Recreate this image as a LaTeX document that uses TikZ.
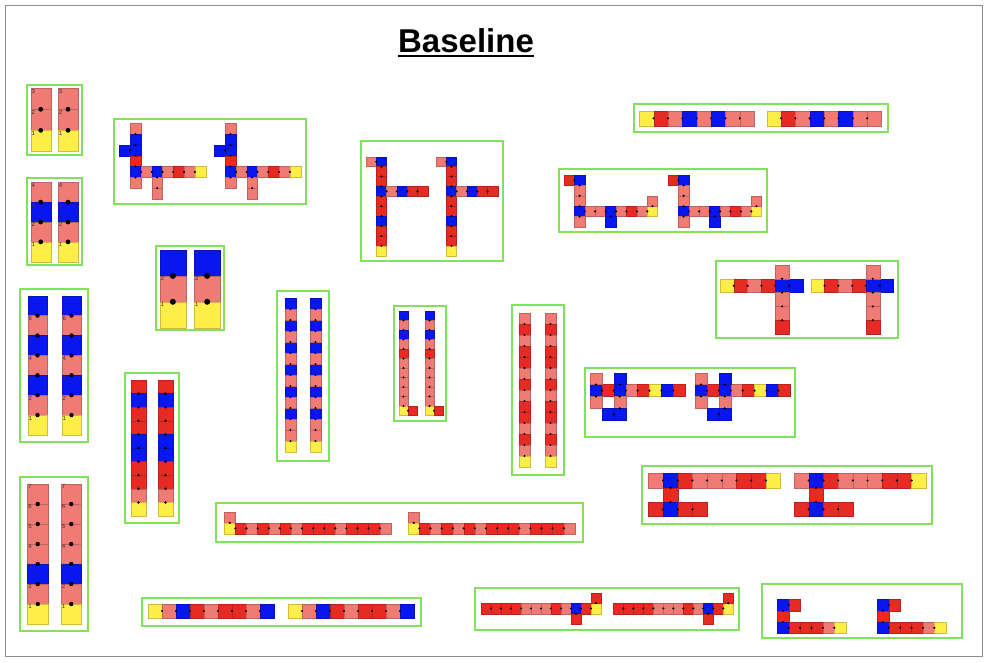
\documentclass[tikz,border=0pt]{standalone}
\usepackage{fontspec}
\setmainfont{Liberation Sans}
\definecolor{cy}{RGB}{255,238,72}
\definecolor{cs}{RGB}{240,122,116}
\definecolor{cr}{RGB}{232,42,36}
\definecolor{cb}{RGB}{8,22,240}
\definecolor{gbox}{RGB}{130,226,92}
\tikzset{
  grpbox/.style={draw=gbox,line width=2pt},
  lbl/.style={anchor=north west,inner sep=0.6pt,font=\fontsize{6}{6}\selectfont,text=black!80},
}
\newcommand\cc[3]{\fill[#3] (#1,#2) rectangle ++(1,1); \draw[draw=#3!80!black,line width=0.25pt] (#1,#2) rectangle ++(1,1);}
\newcommand\jd[2]{\fill[black] (#1,#2) circle[radius=\jr];}
\def\jr{1.2pt}
\begin{document}
\begin{tikzpicture}[x=1pt,y=-1pt]
\useasboundingbox (0,0) rectangle (988,662);
\draw[black!45,line width=0.8pt] (5,5) rectangle (982,656);
\node[font=\bfseries\fontsize{33}{33}\selectfont,inner sep=0pt,anchor=base] (title) at (466,52) {Baseline};
\draw[line width=2.2pt] ([yshift=-4pt]title.base west) -- ([yshift=-4pt]title.base east);

% group boxes
\draw[grpbox] (27,84.5) rectangle (82,155);
\draw[grpbox] (27,177.5) rectangle (82,265);
\draw[grpbox] (155.5,246) rectangle (223.5,329.5);
\draw[grpbox] (20,289) rectangle (88,441.5);
\draw[grpbox] (20,477) rectangle (88,631);
\draw[grpbox] (124.5,373) rectangle (179,523);
\draw[grpbox] (276.5,291) rectangle (329,461);
\draw[grpbox] (394,305.5) rectangle (446,421);
\draw[grpbox] (512,305) rectangle (564,475);
\draw[grpbox] (114,118.5) rectangle (305.5,203.5);
\draw[grpbox] (361,140.5) rectangle (503,260.5);
\draw[grpbox] (633.5,104) rectangle (887.5,132);
\draw[grpbox] (559,169) rectangle (767,231.5);
\draw[grpbox] (715.5,261) rectangle (897.5,337.5);
\draw[grpbox] (584.5,367.5) rectangle (795,437);
\draw[grpbox] (642,466) rectangle (932,523.5);
\draw[grpbox] (215.5,502.5) rectangle (582.5,541.5);
\draw[grpbox] (142,597.5) rectangle (421,625.5);
\draw[grpbox] (474.5,587.5) rectangle (739,629.5);
\draw[grpbox] (762,584) rectangle (962,638);

% A
\def\jr{2.4pt}
\foreach \ox in {30.7,58}{
\begin{scope}[shift={(\ox,88.3)},x=20pt,y=-21pt]
\cc{0}{0}{cs}\cc{0}{1}{cs}\cc{0}{2}{cy}
\node[lbl] at (0,0) {3};\node[lbl] at (0,1) {2};\node[lbl] at (0,2) {1};
\jd{0.5}{1}\jd{0.5}{2}
\end{scope}}
% B
\foreach \ox in {30.7,58}{
\begin{scope}[shift={(\ox,182.3)},x=20pt,y=-19.85pt]
\cc{0}{0}{cs}\cc{0}{1}{cb}\cc{0}{2}{cs}\cc{0}{3}{cy}
\node[lbl] at (0,0) {4};\node[lbl] at (0,1) {3};\node[lbl] at (0,2) {2};\node[lbl] at (0,3) {1};
\jd{0.5}{1}\jd{0.5}{2}\jd{0.5}{3}
\end{scope}}
% C
\def\jr{3pt}
\foreach \ox in {160,194.3}{
\begin{scope}[shift={(\ox,250)},x=25.7pt,y=-25.9pt]
\cc{0}{0}{cb}\cc{0}{1}{cs}\cc{0}{2}{cy}
\node[lbl] at (0,0) {3};\node[lbl] at (0,1) {2};\node[lbl] at (0,2) {1};
\jd{0.5}{1}\jd{0.5}{2}
\end{scope}}
% D
\def\jr{2.2pt}
\foreach \ox in {27.7,61.7}{
\begin{scope}[shift={(\ox,295.7)},x=19.6pt,y=-19.9pt]
\cc{0}{0}{cb}\cc{0}{1}{cs}\cc{0}{2}{cb}\cc{0}{3}{cs}\cc{0}{4}{cb}\cc{0}{5}{cs}\cc{0}{6}{cy}
\foreach \k/\t in {0/7,1/6,2/5,3/4,4/3,5/2,6/1}{\node[lbl] at (0,\k) {\t};}
\foreach \k in {1,...,6}{\jd{0.5}{\k}}
\end{scope}}
% E
\foreach \ox in {27.5,61}{
\begin{scope}[shift={(\ox,484)},x=20.5pt,y=-20pt]
\cc{0}{0}{cs}\cc{0}{1}{cs}\cc{0}{2}{cs}\cc{0}{3}{cs}\cc{0}{4}{cb}\cc{0}{5}{cs}\cc{0}{6}{cy}
\foreach \k/\t in {0/7,1/6,2/5,3/4,4/3,5/2,6/1}{\node[lbl] at (0,\k) {\t};}
\foreach \k in {1,...,6}{\jd{0.5}{\k}}
\end{scope}}
% F
\def\jr{1.4pt}
\foreach \ox in {131,158}{
\begin{scope}[shift={(\ox,380)},x=15pt,y=-13.6pt]
\cc{0}{0}{cr}\cc{0}{1}{cb}\cc{0}{2}{cr}\cc{0}{3}{cr}\cc{0}{4}{cb}\cc{0}{5}{cb}\cc{0}{6}{cr}\cc{0}{7}{cr}\cc{0}{8}{cs}\cc{0}{9}{cy}
\foreach \k in {1,...,9}{\jd{0.5}{\k}}
\end{scope}}
% G
\def\jr{1.1pt}
\foreach \ox in {285,310}{
\begin{scope}[shift={(\ox,298)},x=11pt,y=-11pt]
\foreach \k in {0,2,...,10}{\cc{0}{\k}{cb}}
\foreach \k in {1,3,...,11}{\cc{0}{\k}{cs}}
\cc{0}{12}{cs}\cc{0}{13}{cy}
\foreach \k in {1,...,13}{\jd{0.5}{\k}}
\end{scope}}
% H
\foreach \ox in {399,425}{
\begin{scope}[shift={(\ox,311)},x=9pt,y=-9.5pt]
\cc{0}{0}{cb}\cc{0}{1}{cs}\cc{0}{2}{cb}\cc{0}{3}{cs}\cc{0}{4}{cr}\cc{0}{5}{cs}\cc{0}{6}{cs}\cc{0}{7}{cs}\cc{0}{8}{cs}\cc{0}{9}{cs}\cc{0}{10}{cy}\cc{1}{10}{cr}
\foreach \k in {1,...,10}{\jd{0.5}{\k}}
\jd{1}{10.5}
\end{scope}}
% I
\foreach \ox in {519,545}{
\begin{scope}[shift={(\ox,313)},x=11pt,y=-11pt]
\cc{0}{0}{cs}\cc{0}{1}{cr}\cc{0}{2}{cs}\cc{0}{3}{cr}\cc{0}{4}{cr}\cc{0}{5}{cs}\cc{0}{6}{cr}\cc{0}{7}{cs}\cc{0}{8}{cr}\cc{0}{9}{cr}\cc{0}{10}{cs}\cc{0}{11}{cr}\cc{0}{12}{cs}\cc{0}{13}{cy}
\foreach \k in {1,...,13}{\jd{0.5}{\k}}
\end{scope}}
% J
\def\jr{1.2pt}
\foreach \ox in {119.3,214.3}{
\begin{scope}[shift={(\ox,123.3)},x=10.8pt,y=-10.8pt]
\cc{1}{0}{cs}\cc{1}{1}{cb}\cc{1}{2}{cb}\cc{0}{2}{cb}\cc{1}{3}{cr}\cc{1}{4}{cb}\cc{1}{5}{cs}
\cc{2}{4}{cs}\cc{3}{4}{cb}\cc{4}{4}{cs}\cc{5}{4}{cr}\cc{6}{4}{cs}\cc{7}{4}{cy}
\cc{3}{5}{cs}\cc{3}{6}{cs}
\foreach \k in {1,...,5}{\jd{1.5}{\k}}
\jd{1}{2.5}
\foreach \k in {2,...,7}{\jd{\k}{4.5}}
\jd{3.5}{5}\jd{3.5}{6}
\end{scope}}
% K
\foreach \ox in {366,436}{
\begin{scope}[shift={(\ox,156.7)},x=10.3pt,y=-9.9pt]
\cc{0}{0}{cs}
\cc{1}{0}{cb}\cc{1}{1}{cr}\cc{1}{2}{cr}\cc{1}{3}{cb}\cc{1}{4}{cr}\cc{1}{5}{cr}\cc{1}{6}{cb}\cc{1}{7}{cr}\cc{1}{8}{cr}\cc{1}{9}{cy}
\cc{2}{3}{cs}\cc{3}{3}{cb}\cc{4}{3}{cr}\cc{5}{3}{cr}
\foreach \k in {1,...,9}{\jd{1.5}{\k}}
\jd{1}{0.5}
\foreach \k in {2,...,5}{\jd{\k}{3.5}}
\end{scope}}
% L
\foreach \ox in {639.3,766.7}{
\begin{scope}[shift={(\ox,111)},x=14.35pt,y=-14.7pt]
\cc{0}{0}{cy}\cc{1}{0}{cr}\cc{2}{0}{cs}\cc{3}{0}{cb}\cc{4}{0}{cs}\cc{5}{0}{cb}\cc{6}{0}{cs}\cc{7}{0}{cs}
\foreach \k in {1,...,7}{\jd{\k}{0.5}}
\end{scope}}
% M
\foreach \ox in {564,668}{
\begin{scope}[shift={(\ox,175)},x=10.4pt,y=-10.4pt]
\cc{0}{0}{cr}\cc{1}{0}{cb}\cc{1}{1}{cs}\cc{1}{2}{cs}\cc{1}{3}{cb}\cc{1}{4}{cs}
\cc{2}{3}{cs}\cc{3}{3}{cs}\cc{4}{3}{cb}\cc{5}{3}{cs}\cc{6}{3}{cr}\cc{7}{3}{cs}\cc{8}{3}{cy}
\cc{4}{4}{cb}\cc{8}{2}{cs}
\jd{1}{0.5}
\foreach \k in {1,...,4}{\jd{1.5}{\k}}
\foreach \k in {2,...,8}{\jd{\k}{3.5}}
\jd{4.5}{4}\jd{8.5}{3}
\end{scope}}
% N
\foreach \ox in {720,810.7}{
\begin{scope}[shift={(\ox,265)},x=13.8pt,y=-13.8pt]
\cc{0}{1}{cy}\cc{1}{1}{cr}\cc{2}{1}{cs}\cc{3}{1}{cr}\cc{4}{1}{cb}\cc{5}{1}{cb}
\cc{4}{0}{cs}\cc{4}{2}{cs}\cc{4}{3}{cs}\cc{4}{4}{cr}
\foreach \k in {1,...,5}{\jd{\k}{1.5}}
\foreach \k in {1,...,4}{\jd{4.5}{\k}}
\end{scope}}
% O
\foreach \ox in {590,695}{
\begin{scope}[shift={(\ox,372.7)},x=11.9pt,y=-11.9pt]
\cc{0}{1}{cb}\cc{1}{1}{cr}\cc{2}{1}{cb}\cc{3}{1}{cs}\cc{4}{1}{cr}\cc{5}{1}{cy}\cc{6}{1}{cb}\cc{7}{1}{cr}
\cc{0}{0}{cs}\cc{0}{2}{cs}\cc{2}{0}{cb}\cc{2}{2}{cs}\cc{2}{3}{cb}\cc{1}{3}{cb}
\foreach \k in {1,...,7}{\jd{\k}{1.5}}
\jd{0.5}{1}\jd{0.5}{2}\jd{2.5}{1}\jd{2.5}{2}\jd{2.5}{3}\jd{2}{3.5}
\end{scope}}
% P
\foreach \ox in {648.3,794}{
\begin{scope}[shift={(\ox,473.3)},x=14.7pt,y=-14.4pt]
\cc{0}{0}{cs}\cc{1}{0}{cb}\cc{2}{0}{cr}\cc{3}{0}{cs}\cc{4}{0}{cs}\cc{5}{0}{cs}\cc{6}{0}{cr}\cc{7}{0}{cr}\cc{8}{0}{cy}
\cc{1}{1}{cr}
\cc{0}{2}{cr}\cc{1}{2}{cb}\cc{2}{2}{cr}\cc{3}{2}{cr}
\foreach \k in {1,...,8}{\jd{\k}{0.5}}
\jd{1.5}{1}\jd{1.5}{2}
\foreach \k in {1,...,3}{\jd{\k}{2.5}}
\end{scope}}
% Q
\foreach \ox in {224.3,408.3}{
\begin{scope}[shift={(\ox,511.7)},x=11.1pt,y=-11.1pt]
\cc{0}{0}{cs}\cc{0}{1}{cy}
\foreach \k/\c in {1/cr,2/cs,3/cr,4/cs,5/cr,6/cs,7/cr,8/cr,9/cr,10/cs,11/cr,12/cr,13/cr,14/cs}{\cc{\k}{1}{\c}}
\jd{0.5}{1}
\foreach \k in {1,...,14}{\jd{\k}{1.5}}
\end{scope}}
% R
\foreach \ox in {148,288}{
\begin{scope}[shift={(\ox,604)},x=14pt,y=-14pt]
\foreach \k/\c in {0/cy,1/cs,2/cb,3/cr,4/cs,5/cr,6/cr,7/cs,8/cb}{\cc{\k}{0}{\c}}
\foreach \k in {1,...,8}{\jd{\k}{0.5}}
\end{scope}}
% S
\foreach \ox in {481,613.3}{
\begin{scope}[shift={(\ox,592.7)},x=10pt,y=-10.5pt]
\foreach \k/\c in {0/cr,1/cr,2/cr,3/cr,4/cs,5/cs,6/cs,7/cr,8/cs,9/cb,10/cr,11/cy}{\cc{\k}{1}{\c}}
\cc{11}{0}{cr}\cc{9}{2}{cr}
\foreach \k in {1,...,11}{\jd{\k}{1.5}}
\jd{11.5}{1}\jd{9.5}{2}
\end{scope}}
% T
\foreach \ox in {777.3,877.3}{
\begin{scope}[shift={(\ox,599.3)},x=11.4pt,y=-11.4pt]
\cc{0}{0}{cb}\cc{1}{0}{cr}\cc{0}{1}{cr}\cc{0}{2}{cb}\cc{1}{2}{cr}\cc{2}{2}{cr}\cc{3}{2}{cr}\cc{4}{2}{cs}\cc{5}{2}{cy}
\jd{1}{0.5}\jd{0.5}{1}\jd{0.5}{2}
\foreach \k in {1,...,5}{\jd{\k}{2.5}}
\end{scope}}
\end{tikzpicture}
\end{document}
